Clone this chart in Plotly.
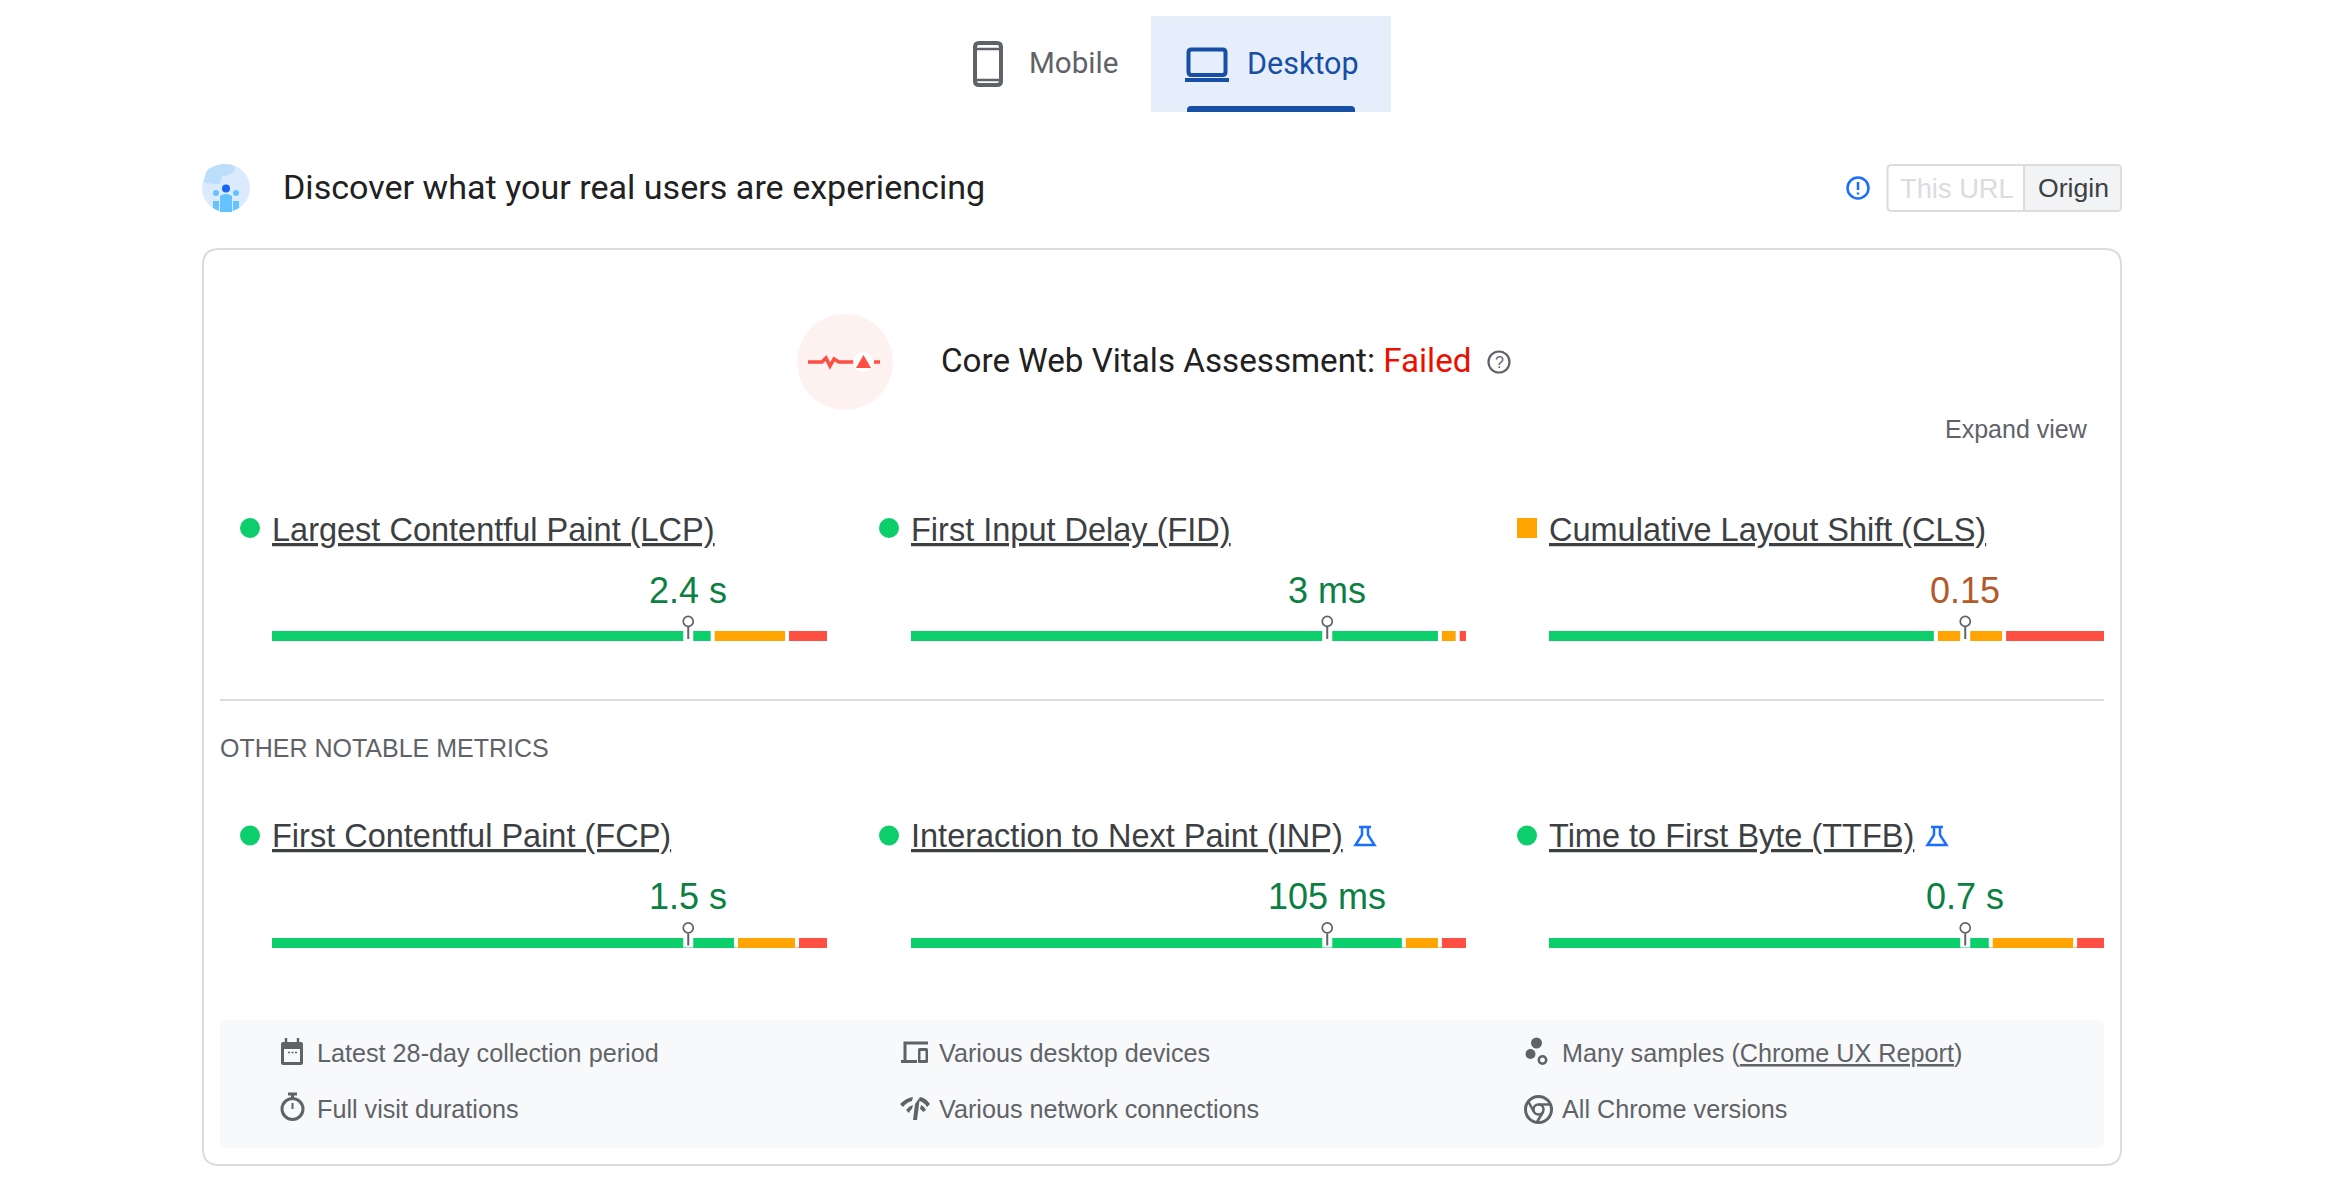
import plotly.graph_objects as go

# metric rows, left to right then top to bottom
metric_names = ['Largest Contentful Paint (LCP)', 'First Input Delay (FID)', 'Cumulative Layout Shift (CLS)',
                'First Contentful Paint (FCP)', 'Interaction to Next Paint (INP)', 'Time to First Byte (TTFB)']
metric_values = ['2.4 s', '3 ms', '0.15', '1.5 s', '105 ms', '0.7 s']
good_pct = [79.4, 95.3, 69.7, 83.6, 88.8, 79.6]
needs_pct = [13.4, 3.2, 12.3, 11.0, 6.5, 15.2]
poor_pct = [7.2, 1.5, 18.0, 5.4, 4.7, 5.2]
p75_pct = [75, 75, 75, 75, 75, 75]
metric_status = ['good', 'good', 'average', 'good', 'good', 'good']
experimental = [False, False, False, False, True, True]

footer_rows = [['Latest 28-day collection period', 'Various desktop devices',
                'Many samples (<u>Chrome UX Report</u>)'],
               ['Full visit durations', 'Various network connections', 'All Chrome versions']]

W, H = 2334, 1200
GREEN, ORANGE, RED = '#0cce6b', '#ffa400', '#ff4e42'
GRAY, DARK, BORDER = '#5f6368', '#3c4043', '#dadce0'
BLUE, LINK = '#174ea6', '#1a6eff'
SANS = 'Liberation Sans'
TITLE = 'Roboto'

col_x = [272, 911, 1549]
row_y = [631, 937.5]
BAR_W = 555

fig = go.Figure()
shapes = []
notes = []


def rrect(x0, y0, x1, y1, r):
    return (f'M{x0 + r},{y0} L{x1 - r},{y0} Q{x1},{y0} {x1},{y0 + r} L{x1},{y1 - r} Q{x1},{y1} {x1 - r},{y1} '
            f'L{x0 + r},{y1} Q{x0},{y1} {x0},{y1 - r} L{x0},{y0 + r} Q{x0},{y0} {x0 + r},{y0} Z')


def path(d, fill=None, line=None, width=0):
    shapes.append(dict(type='path', path=d, xref='x', yref='y', fillcolor=fill or 'rgba(0,0,0,0)',
                       line=dict(color=line or 'rgba(0,0,0,0)', width=width)))


def circle(cx, cy, r, fill=None, line=None, width=0):
    shapes.append(dict(type='circle', xref='x', yref='y', x0=cx - r, x1=cx + r, y0=cy - r, y1=cy + r,
                       fillcolor=fill or 'rgba(0,0,0,0)',
                       line=dict(color=line or 'rgba(0,0,0,0)', width=width)))


def label(x, y, text, size, color, family=SANS, anchor='left'):
    # annotations sit about 1.5px right of where the x asks for
    notes.append(dict(x=x - 1.5 if anchor == 'left' else x, y=y, xref='x', yref='y', text=text, showarrow=False,
                      xanchor=anchor, yanchor='middle', borderpad=0,
                      font=dict(family=family, size=size, color=color)))


# tabs
path(rrect(1151, 16, 1391, 112, 0.1), fill='#e6eefb')
path('M1187,112 L1187,110 Q1187,106 1191,106 L1351,106 Q1355,106 1355,110 L1355,112 Z', fill=BLUE)
path(rrect(975, 43, 1001, 85, 4), line=GRAY, width=4)
path('M975,49 L1001,49 M975,80 L1001,80', line=GRAY, width=2.5)
path(rrect(1188.5, 49.5, 1225.5, 75, 3), line=BLUE, width=4)
path('M1185,80 L1229,80', line=BLUE, width=4)
label(1029, 63, 'Mobile', 29.6, GRAY, TITLE)
label(1247, 63, 'Desktop', 30.5, BLUE, TITLE)

# header row
circle(226, 188, 24, fill='#dbeafe')
path('M206,172 Q212,164 226,164 Q236,164 235,170 Q230,176 222,176 L220,184 Q210,184 204,182 Z', fill='#bbdefb')
path('M220,196 Q226,192 232,196 L232,212 L220,212 Z', fill='#64c3ff')
path('M213,201 L219,201 L219,211 L213,208 Z M233,201 L239,201 L239,208 L233,211 Z', fill='#64c3ff')
circle(226, 188.5, 4, fill='#1967f0')
circle(216, 193, 3, fill='#64c3ff')
circle(236, 193, 3, fill='#64c3ff')
label(283, 186.5, 'Discover what your real users are experiencing', 34.1, '#212121', TITLE)

circle(1858, 188, 10.5, line=LINK, width=2.5)
path('M1858,182 L1858,190 M1858,192.5 L1858,194.5', line=LINK, width=2.5)
path(rrect(1887.5, 165, 2121, 211, 4), fill='#ffffff', line=BORDER, width=2)
path('M2024,166 L2117,166 Q2120,166 2120,169 L2120,207 Q2120,210 2117,210 L2024,210 Z', fill='#f1f3f4')
path('M2024,165 L2024,211', line=BORDER, width=2)
label(1900, 188, 'This URL', 27.3, BORDER)
label(2038, 188, 'Origin', 26.6, DARK)

# card
path(rrect(203, 249, 2121, 1165, 16), line=BORDER, width=2)
circle(845, 362, 48, fill='#fef2f1')
path('M808,362 L822,362 L826,358 L830,366 L834,359 L839,362 L854,362', line=RED, width=3.5)
circle(863, 362, 10, fill='#ffffff')
path('M863.5,355 L871,368 L856,368 Z', fill=RED)
path('M874,362 L880,362', line=RED, width=3.5)
label(941, 360.5, 'Core Web Vitals Assessment: <span style="color:#eb0f00">Failed</span>', 33.2, '#212121', TITLE)
circle(1499, 362, 10.5, line=GRAY, width=2.2)
label(1499, 362, '?', 16, GRAY, anchor='center')
label(1945, 429, 'Expand view', 25, GRAY)

path('M220,700 L2104,700', line=BORDER, width=2)
label(220, 747.5, 'OTHER NOTABLE METRICS', 25, GRAY)

# metric panels, each bar has its own axes
axes = {}
for i, name in enumerate(metric_names):
    col, row = i % 3, i // 3
    x0, y0 = col_x[col], row_y[row]
    ax = i + 2
    xa, ya = f'x{ax}', f'y{ax}'
    axes[f'xaxis{ax}'] = dict(domain=[x0 / W, (x0 + BAR_W) / W], range=[0, 100], anchor=ya, visible=False,
                              fixedrange=True)
    # 33px tall, one y unit is the 10px bar
    axes[f'yaxis{ax}'] = dict(domain=[1 - (y0 + 14) / H, 1 - (y0 - 19) / H], range=[-0.4, 2.9], anchor=xa,
                              visible=False, fixedrange=True)

    for vals, color in [(good_pct, GREEN), (needs_pct, ORANGE), (poor_pct, RED)]:
        fig.add_trace(go.Bar(x=[vals[i]], y=[0.5], width=[1], orientation='h', marker=dict(color=color, line_width=0),
                             xaxis=xa, yaxis=ya, showlegend=False))
    # white gaps between the segments and around the pin
    b1, b2 = good_pct[i], good_pct[i] + needs_pct[i]
    fig.add_trace(go.Scatter(x=[b1, b1, None, b2, b2], y=[0, 1, None, 0, 1], mode='lines',
                             line=dict(color='#ffffff', width=4), xaxis=xa, yaxis=ya, showlegend=False))
    p = p75_pct[i]
    fig.add_trace(go.Scatter(x=[p, p], y=[0, 1], mode='lines', line=dict(color='#ffffff', width=10),
                             xaxis=xa, yaxis=ya, showlegend=False))
    fig.add_trace(go.Scatter(x=[p, p], y=[0.2, 1.4], mode='lines', line=dict(color=GRAY, width=2),
                             xaxis=xa, yaxis=ya, showlegend=False, cliponaxis=False))
    fig.add_trace(go.Scatter(x=[p], y=[1.96], mode='markers', xaxis=xa, yaxis=ya, showlegend=False,
                             marker=dict(size=10, color='#ffffff', line=dict(color=GRAY, width=1.7))))

    ym = 528 if row == 0 else 835.5
    if metric_status[i] == 'good':
        circle(x0 - 22, ym, 10, fill=GREEN)
    else:
        path(f'M{x0 - 32},{ym - 10} L{x0 - 12},{ym - 10} L{x0 - 12},{ym + 10} L{x0 - 32},{ym + 10} Z', fill=ORANGE)
    label(x0, ym + 1.5 if row == 0 else ym, f'<u>{name}</u>', 32.5, DARK)
    vcolor = '#0b8043' if metric_status[i] == 'good' else '#b35a2b'
    notes.append(dict(x=p, y=y0 - 41, xref=xa, yref='y', text=metric_values[i], showarrow=False, xanchor='center',
                      yanchor='middle', font=dict(family=SANS, size=36, color=vcolor)))

fx = {4: 1354, 5: 1926}
for i, flag in enumerate(experimental):
    if flag:
        f = fx[i]
        path(f'M{f + 5},827 L{f + 17},827 M{f + 8},827 L{f + 8},835 L{f + 1.5},845 L{f + 20.5},845 L{f + 14},835 '
             f'L{f + 14},827', line=LINK, width=2.5)

# footer
path(rrect(220, 1020, 2104, 1148, 6), fill='#f8f9fa')
footer_x = [317, 939, 1562]
footer_y = [1052.5, 1108.5]
for r, row in enumerate(footer_rows):
    for c, text in enumerate(row):
        label(footer_x[c], footer_y[r], text, 25.2, GRAY)

# calendar
path(rrect(281, 1042, 303, 1065, 2), fill=GRAY)
path('M286,1038 L286,1043 M298,1038 L298,1043', line=GRAY, width=2.5)
path('M284,1049 L300,1049 L300,1062 L284,1062 Z', fill='#f8f9fa')
path('M288,1052.5 L290,1052.5 M291.5,1052.5 L293.5,1052.5 M295,1052.5 L297,1052.5', line=GRAY, width=1.5)
# stopwatch
circle(292.5, 1109, 10.5, line=GRAY, width=3)
path('M288,1094 L297,1094 M292.5,1094 L292.5,1098', line=GRAY, width=3)
path('M292.5,1103 L292.5,1109', line=GRAY, width=2)
# devices
path('M905,1061 L905,1043 L928,1043', line=GRAY, width=3)
path('M901,1060 L917,1060 L917,1063 L901,1063 Z', fill=GRAY)
path(rrect(918, 1048, 928, 1063, 1.5), fill=GRAY)
path('M920.5,1051 L925.5,1051 L925.5,1060 L920.5,1060 Z', fill='#f8f9fa')
# network
path('M900,1104 Q906,1098 913,1097 L912,1101 Q907,1102 903,1107 Z', fill=GRAY)
path('M920,1097 Q926,1098 930,1104 L927,1107 Q924,1102 919,1101 Z', fill=GRAY)
path('M915,1104 L920,1097 L917,1120 L913,1120 Z', fill=GRAY)
path('M906,1110 Q909,1106 913,1105 L912,1109 Q910,1110 909,1113 Z', fill=GRAY)
path('M921,1105 Q924,1106 926,1110 L923,1112 Q922,1110 920,1109 Z', fill=GRAY)
# samples
circle(1536.5, 1043, 5.5, fill=GRAY)
circle(1530.5, 1054, 5, fill=GRAY)
circle(1542.5, 1060, 3.7, line=GRAY, width=2.5)
# chrome
circle(1538.5, 1109.5, 13, line=GRAY, width=3)
circle(1538.5, 1109.5, 5, line=GRAY, width=2.5)
path('M1538.5,1104.5 L1550,1104.5 M1534,1112 L1528,1101 M1543,1112 L1537,1122', line=GRAY, width=2.5)

fig.update_layout(
    width=W, height=H, margin=dict(l=0, r=0, t=0, b=0), paper_bgcolor='#ffffff', plot_bgcolor='rgba(0,0,0,0)',
    barmode='stack', showlegend=False, shapes=shapes, annotations=notes,
    xaxis=dict(domain=[0, 1], range=[0, W], visible=False, fixedrange=True),
    yaxis=dict(domain=[0, 1], range=[H, 0], visible=False, fixedrange=True),
    **axes,
)
# the base axes need something on them or plotly drops them
fig.add_trace(go.Scatter(x=[None], y=[None], xaxis='x', yaxis='y', showlegend=False))

# page margin would push the figure off by 8px
fig.write_html('out.html', config={'displayModeBar': False}, post_script="document.body.style.margin='0';")
